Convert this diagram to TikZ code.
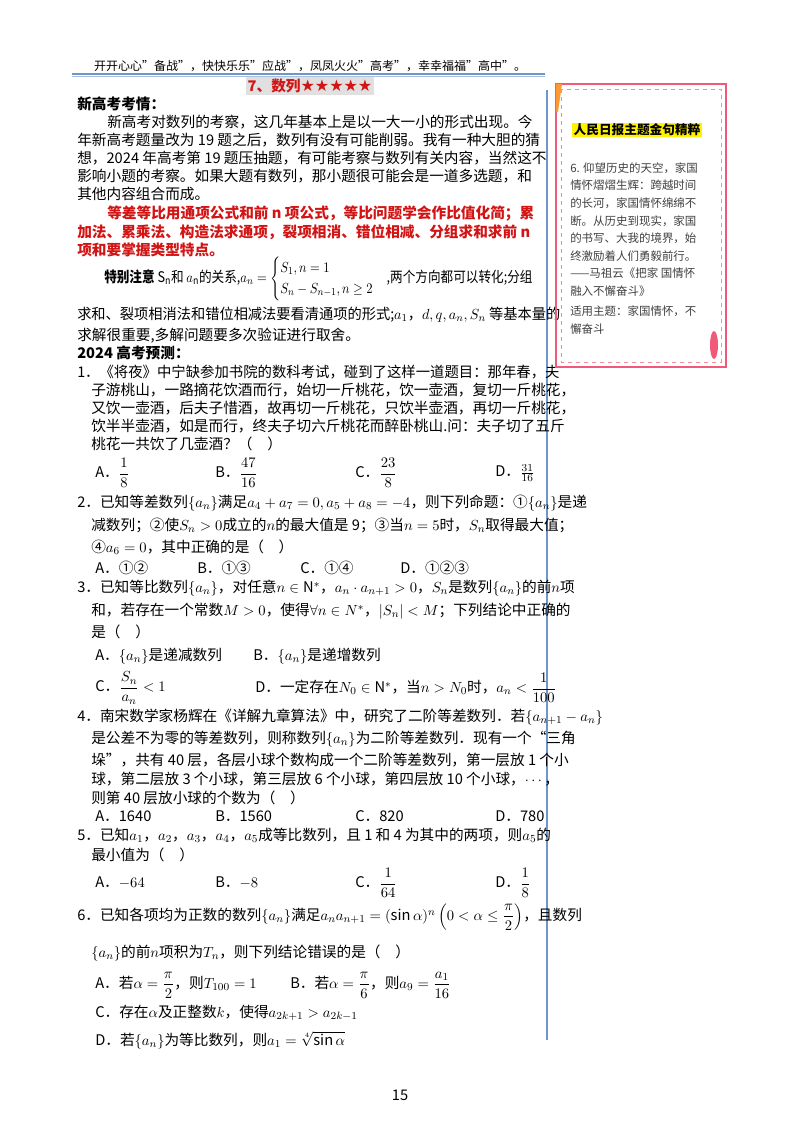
\documentclass[tikz,border=0pt]{standalone}
\usepackage{amsmath,amssymb,graphicx}
\usepackage{fontspec}
\setmainfont{Noto Sans CJK SC}
\newfontfamily\djv{DejaVu Sans}
\newcounter{lnc}
\newcommand\T[3]{\stepcounter{lnc}\node[txt,name=t\thelnc] at (#1,#2) {#3};}
\newcommand\TS[3]{\stepcounter{lnc}\node[side,name=t\thelnc] at (#1,#2) {#3};}
\definecolor{hred}{RGB}{210,20,20}
\definecolor{pk}{RGB}{240,90,120}
\definecolor{lblue}{RGB}{110,150,200}
\begin{document}
\begin{tikzpicture}[x=0.75pt,y=-0.75pt,
  txt/.style={anchor=west,inner sep=0pt,font=\fontsize{11}{13}\selectfont},
  side/.style={anchor=west,inner sep=0pt,font=\fontsize{8.6}{10}\selectfont,text=black!75}]
\useasboundingbox (0,0) rectangle (800,1132);
\fill[white] (0,0) rectangle (800,1132);
% header
\node[inner sep=0pt,font=\fontsize{9}{11}\selectfont] (hd) at (310,66) {开开心心"备战"，快快乐乐"应战"，凤凤火火"高考"，幸幸福福"高中"。};
\draw[lblue,line width=1pt] (72,74) -- (545,74);
\draw[lblue!60,line width=0.5pt] (72,76) -- (545,76);
\node[fill=black!12,inner sep=1.5pt,text=hred,font=\fontsize{11}{13}\selectfont\bfseries] (ttl) at (310,86) {7、数列{\djv\fontsize{12}{13}\selectfont ★★★★★}};
\draw[lblue,line width=1pt] (547,90) -- (547,1040);
% section 1
\T{77}{104}{\bfseries 新高考考情：}
\T{107}{122}{新高考对数列的考察，这几年基本上是以一大一小的形式出现。今}
\T{77}{140}{年新高考题量改为 19 题之后，数列有没有可能削弱。我有一种大胆的猜}
\T{77}{158}{想，2024 年高考第 19 题压抽题，有可能考察与数列有关内容，当然这不}
\T{77}{176}{影响小题的考察。如果大题有数列，那小题很可能会是一道多选题，和}
\T{77}{194}{其他内容组合而成。}
\T{107}{214}{\color{hred}\bfseries 等差等比用通项公式和前 n 项公式，等比问题学会作比值化简；累}
\T{77}{232}{\color{hred}\bfseries 加法、累乘法、构造法求通项，裂项相消、错位相减、分组求和求前 n}
\T{77}{250}{\color{hred}\bfseries 项和要掌握类型特点。}
\T{104}{279}{\scalebox{0.86}[1]{\textbf{特别注意} S$_{\rm n}$和 $a_{\rm n}$的关系,$a_n=\begin{cases}S_1,n=1\\ S_n-S_{n-1},n\ge 2\end{cases}$,两个方向都可以转化;分组}}
\T{77}{315}{\scalebox{0.97}[1]{求和、裂项相消法和错位相减法要看清通项的形式;$a_1$，$d,q,a_n,S_n$ 等基本量的}}
\T{77}{336}{求解很重要,多解问题要多次验证进行取舍。}
\T{77}{353}{\bfseries 2024 高考预测：}
% Q1
\T{77}{372}{\scalebox{0.98}[1]{1．《将夜》中宁缺参加书院的数科考试，碰到了这样一道题目：那年春，夫}}
\T{91}{390}{子游桃山，一路摘花饮酒而行，始切一斤桃花，饮一壶酒，复切一斤桃花，}
\T{91}{408}{又饮一壶酒，后夫子惜酒，故再切一斤桃花，只饮半壶酒，再切一斤桃花，}
\T{91}{426}{饮半半壶酒，如是而行，终夫子切六斤桃花而醉卧桃山.问：夫子切了五斤}
\T{91}{444}{桃花一共饮了几壶酒？（\quad）}
\T{95}{473}{A．$\dfrac{1}{8}$}
\T{215}{473}{B．$\dfrac{47}{16}$}
\T{355}{473}{C．$\dfrac{23}{8}$}
\T{495}{473}{D．$\frac{31}{16}$}
% Q2
\T{77}{503}{2．已知等差数列$\{a_n\}$满足$a_4+a_7=0,a_5+a_8=-4$，则下列命题：①$\{a_n\}$是递}
\T{91}{525}{减数列；②使$S_n>0$成立的$n$的最大值是 9；③当$n=5$时，$S_n$取得最大值；}
\T{91}{547}{④$a_6=0$，其中正确的是（\quad）}
\T{95}{568}{A．①②}
\T{197}{568}{B．①③}
\T{300}{568}{C．①④}
\T{400}{568}{D．①②③}
% Q3
\T{77}{588}{3．已知等比数列$\{a_n\}$，对任意$n\in\mathrm{N}^*$，$a_n\cdot a_{n+1}>0$，$S_n$是数列$\{a_n\}$的前$n$项}
\T{91}{611}{和，若存在一个常数$M>0$，使得$\forall n\in N^*$，$|S_n|<M$；下列结论中正确的}
\T{91}{632}{是（\quad）}
\T{95}{656}{A．$\{a_n\}$是递减数列}
\T{253}{656}{B．$\{a_n\}$是递增数列}
\T{95}{688}{C．$\dfrac{S_n}{a_n}<1$}
\T{255}{688}{D．一定存在$N_0\in\mathrm{N}^*$，当$n>N_0$时，$a_n<\dfrac{1}{100}$}
% Q4
\T{77}{717}{4．南宋数学家杨辉在《详解九章算法》中，研究了二阶等差数列．若$\{a_{n+1}-a_n\}$}
\T{91}{739}{是公差不为零的等差数列，则称数列$\{a_n\}$为二阶等差数列．现有一个“三角}
\T{91}{760}{垛”，共有 40 层，各层小球个数构成一个二阶等差数列，第一层放 1 个小}
\T{91}{779}{球，第二层放 3 个小球，第三层放 6 个小球，第四层放 10 个小球，$\cdots$，}
\T{91}{798}{则第 40 层放小球的个数为（\quad）}
\T{95}{816}{A．1640}
\T{215}{816}{B．1560}
\T{355}{816}{C．820}
\T{495}{816}{D．780}
% Q5
\T{77}{835}{5．已知$a_1$，$a_2$，$a_3$，$a_4$，$a_5$成等比数列，且 1 和 4 为其中的两项，则$a_5$的}
\T{91}{855}{最小值为（\quad）}
\T{95}{883}{A．$-64$}
\T{215}{883}{B．$-8$}
\T{355}{883}{C．$\dfrac{1}{64}$}
\T{495}{883}{D．$\dfrac{1}{8}$}
% Q6
\T{77}{917}{6．已知各项均为正数的数列$\{a_n\}$满足$a_na_{n+1}=(\sin\alpha)^n\left(0<\alpha\le\dfrac{\pi}{2}\right)$，且数列}
\T{91}{953}{$\{a_n\}$的前$n$项积为$T_n$，则下列结论错误的是（\quad）}
\T{95}{985}{A．若$\alpha=\dfrac{\pi}{2}$，则$T_{100}=1$}
\T{290}{985}{B．若$\alpha=\dfrac{\pi}{6}$，则$a_9=\dfrac{a_1}{16}$}
\T{95}{1013}{C．存在$\alpha$及正整数$k$，使得$a_{2k+1}>a_{2k-1}$}
\T{95}{1040}{D．若$\{a_n\}$为等比数列，则$a_1=\sqrt[4]{\sin\alpha}$}
\node[font=\fontsize{11}{13}\selectfont] (pg) at (400,1095) {15};
% sidebar
\draw[pk,line width=1.4pt] (556,84) rectangle (726,367);
\draw[pk!70,dashed,line width=0.6pt] (561,89) rectangle (721,362);
\fill[orange!80] (556,84) -- (562,84) -- (558,112) -- (556,112) -- cycle;
\fill[pk] (714,345) ellipse (4 and 14);
\node[fill=yellow,inner sep=1pt,font=\fontsize{9.5}{11}\selectfont\bfseries] (st) at (637,130) {人民日报主题金句精粹};
\TS{570}{168}{6. 仰望历史的天空，家国}
\TS{570}{185}{情怀熠熠生辉：跨越时间}
\TS{570}{203}{的长河，家国情怀绵绵不}
\TS{570}{221}{断。从历史到现实，家国}
\TS{570}{238}{的书写、大我的境界，始}
\TS{570}{256}{终激励着人们勇毅前行。}
\TS{570}{273}{——马祖云《把家 国情怀}
\TS{570}{291}{融入不懈奋斗》}
\TS{570}{311}{适用主题：家国情怀，不}
\TS{570}{329}{懈奋斗}
\end{tikzpicture}
\end{document}
